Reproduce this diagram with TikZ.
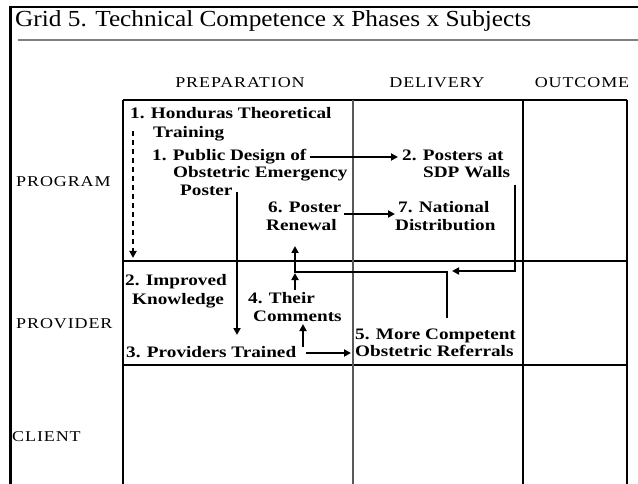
\documentclass[tikz,border=0pt]{standalone}
\usepackage{fontspec}
\setmainfont{Liberation Serif}
\newfontfamily\titlefont[FakeStretch=1.1]{Liberation Serif}
\newfontfamily\bodyfont[FakeStretch=1.2,UprightFont=*,BoldFont=* Bold]{Liberation Serif}
\newfontfamily\capsfont[FakeStretch=1.2,LetterSpace=6]{Liberation Serif}
\usetikzlibrary{arrows.meta}
\tikzset{
  body/.style={anchor=base west, inner sep=0pt, font=\bodyfont\bfseries\fontsize{16}{18}\selectfont},
  capslab/.style={inner sep=0pt, font=\capsfont\fontsize{15}{17}\selectfont},
  gridline/.style={line width=1.2pt, black},
  conn/.style={line width=2pt, -{Triangle[length=7pt,width=7pt]}},
}
\begin{document}
\begin{tikzpicture}[x=1pt,y=-1pt]
\useasboundingbox (0,0) rectangle (638,484);
% outer frame
\draw[line width=1.5pt] (10,7) -- (638,7);
\draw[line width=3pt] (10,6.25) -- (10,484);
\draw[line width=1.5pt, gray] (18,40) -- (638,40);
\node[anchor=west, inner sep=0pt, font=\titlefont\fontsize{23}{26}\selectfont] (title) at (15,21) {Grid 5. Technical Competence x Phases x Subjects};
% column headers
\node[capslab] (hprep) at (240,83) {PREPARATION};
\node[capslab] (hdel) at (437,83) {DELIVERY};
\node[capslab] (hout) at (582,83) {OUTCOME};
% row labels
\node[capslab, anchor=west] (rprog) at (16,182) {PROGRAM};
\node[capslab, anchor=west] (rprov) at (16,324) {PROVIDER};
\node[capslab, anchor=west] (rcli) at (12,437) {CLIENT};
% grid
\draw[gridline] (123,100) -- (627,100);
\draw[gridline] (123,261) -- (627,261);
\draw[gridline] (123,365) -- (627,365);
\draw[gridline] (123,100) -- (123,484);
\draw[gridline, gray!70!black] (353,100) -- (353,484);
\draw[gridline] (523,100) -- (523,484);
\draw[gridline] (627,100) -- (627,484);
% texts
\node[body] (t1a) at (130,119) {1. Honduras Theoretical};
\node[body] (t1b) at (153,138) {Training};
\node[body] (t2a) at (152,161) {1. Public Design of};
\node[body] (t2b) at (173,178) {Obstetric Emergency};
\node[body] (t2c) at (180,196) {Poster};
\node[body] (t3a) at (402,161) {2. Posters at};
\node[body] (t3b) at (423,178) {SDP Walls};
\node[body] (t6a) at (268,213) {6. Poster};
\node[body] (t6b) at (266,231) {Renewal};
\node[body] (t7a) at (398,213) {7. National};
\node[body] (t7b) at (395,231) {Distribution};
\node[body] (t2ia) at (125,285) {2. Improved};
\node[body] (t2ib) at (132,304) {Knowledge};
\node[body] (t4a) at (248,303) {4. Their};
\node[body] (t4b) at (253,321) {Comments};
\node[body] (t3p) at (126,357) {3. Providers Trained};
\node[body] (t5a) at (355,339) {5. More Competent};
\node[body] (t5b) at (355,356) {Obstetric Referrals};
% connector points
\coordinate (a1s) at (133,131); \coordinate (a1e) at (133,258);
\coordinate (a2s) at (310,157); \coordinate (a2e) at (398,157);
\coordinate (a3s) at (237,192); \coordinate (a3e) at (237,335);
\coordinate (a4s) at (344,214); \coordinate (a4e) at (395,214);
\coordinate (a5s) at (515,185); \coordinate (a5c) at (515,271); \coordinate (a5e) at (452,271);
\coordinate (a6s) at (447,318); \coordinate (a6c) at (447,272); \coordinate (a6d) at (295,272); \coordinate (a6e) at (295,246);
\coordinate (a7s) at (295,290); \coordinate (a7e) at (295,273);
\coordinate (a8s) at (303,347); \coordinate (a8e) at (303,324);
\coordinate (a9s) at (306,353); \coordinate (a9e) at (351,353);
% connectors
\draw[conn, dash pattern=on 5pt off 4pt] (a1s) -- (a1e);
\draw[conn] (a2s) -- (a2e);
\draw[conn] (a3s) -- (a3e);
\draw[conn] (a4s) -- (a4e);
\draw[conn] (a5s) -- (a5c) -- (a5e);
\draw[conn] (a6s) -- (a6c) -- (a6d) -- (a6e);
\draw[conn] (a7s) -- (a7e);
\draw[conn] (a8s) -- (a8e);
\draw[conn] (a9s) -- (a9e);
\end{tikzpicture}
\end{document}
